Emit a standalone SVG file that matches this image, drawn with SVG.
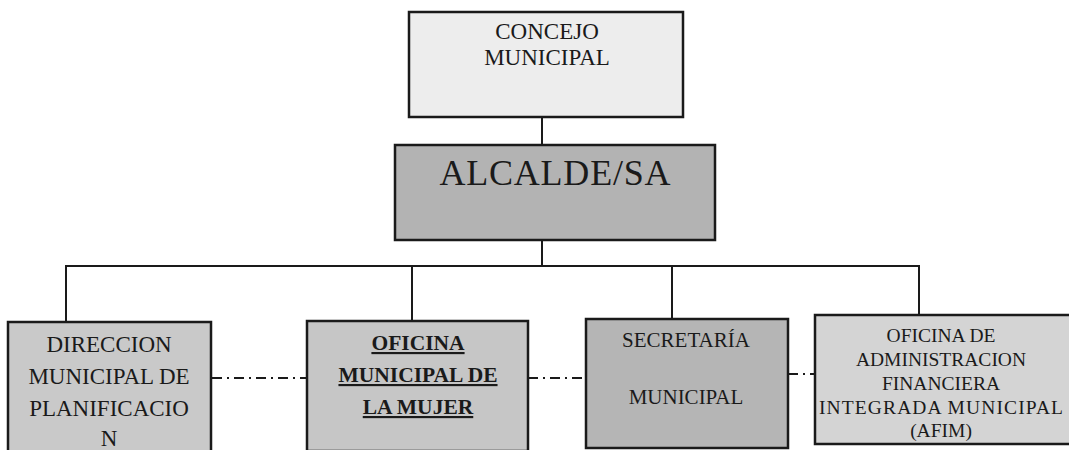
<svg xmlns="http://www.w3.org/2000/svg" width="1069" height="450" viewBox="0 0 1069 450">
<style>
.box{stroke:#1a1a1a;stroke-width:2.5}
.t{font-family:"Liberation Serif","Times New Roman",serif;fill:#1a1a1a;text-anchor:middle}
.b{font-weight:bold;text-decoration:underline}
.c{stroke:#1a1a1a;stroke-width:2;fill:none}
.d{stroke:#1a1a1a;stroke-width:2;fill:none;stroke-dasharray:10 5 2 5}
</style>
<rect width="1069" height="450" fill="#ffffff"/>
<g id="connectors">
<line class="c" x1="542" y1="117" x2="542" y2="145"/>
<line class="c" x1="542" y1="240" x2="542" y2="266"/>
<polyline class="c" points="66,322 66,266 919,266 919,315"/>
<line class="c" x1="412" y1="266" x2="412" y2="321"/>
<line class="c" x1="672" y1="266" x2="672" y2="319"/>
<line class="d" x1="212" y1="378" x2="307" y2="378"/>
<line class="d" x1="528" y1="378" x2="586" y2="378"/>
<line class="d" x1="788" y1="374" x2="815" y2="374"/>
</g>
<g id="concejo">
<rect class="box" x="409" y="12" width="274" height="105" fill="#ededed"/>
<text class="t" x="547" y="39" font-size="23">CONCEJO</text>
<text class="t" x="547" y="65" font-size="23">MUNICIPAL</text>
</g>
<g id="alcalde">
<rect class="box" x="395" y="145" width="320" height="95" fill="#b3b3b3"/>
<text class="t" x="555" y="185" font-size="36" textLength="231" lengthAdjust="spacing">ALCALDE/SA</text>
</g>
<g id="direccion">
<rect class="box" x="8" y="322" width="203" height="140" fill="#c9c9c9"/>
<text class="t" font-size="23" x="109" y="352">DIRECCION</text>
<text class="t" font-size="23" x="109" y="384">MUNICIPAL DE</text>
<text class="t" font-size="23" x="109" y="416">PLANIFICACIO</text>
<text class="t" font-size="23" x="109" y="446">N</text>
</g>
<g id="oficina-mujer">
<rect class="box" x="307" y="321" width="221" height="130" fill="#c6c6c6"/>
<text class="t b" font-size="21.5" x="418" y="350">OFICINA</text>
<text class="t b" font-size="21.5" x="418" y="382">MUNICIPAL DE</text>
<text class="t b" font-size="21.5" x="418" y="414">LA MUJER</text>
</g>
<g id="secretaria">
<rect class="box" x="586" y="319" width="202" height="129" fill="#b5b5b5"/>
<text class="t" font-size="21" x="686" y="347">SECRETARÍA</text>
<text class="t" font-size="21" x="686" y="404">MUNICIPAL</text>
</g>
<g id="afim">
<rect class="box" x="815" y="315" width="256" height="129" fill="#d4d4d4"/>
<text class="t" font-size="19.5" x="941" y="342">OFICINA DE</text>
<text class="t" font-size="19.5" x="941" y="366">ADMINISTRACION</text>
<text class="t" font-size="19.5" x="941" y="390">FINANCIERA</text>
<text class="t" font-size="19.5" x="941" y="414" textLength="244" lengthAdjust="spacing">INTEGRADA MUNICIPAL</text>
<text class="t" font-size="19.5" x="941" y="437">(AFIM)</text>
</g>
</svg>
